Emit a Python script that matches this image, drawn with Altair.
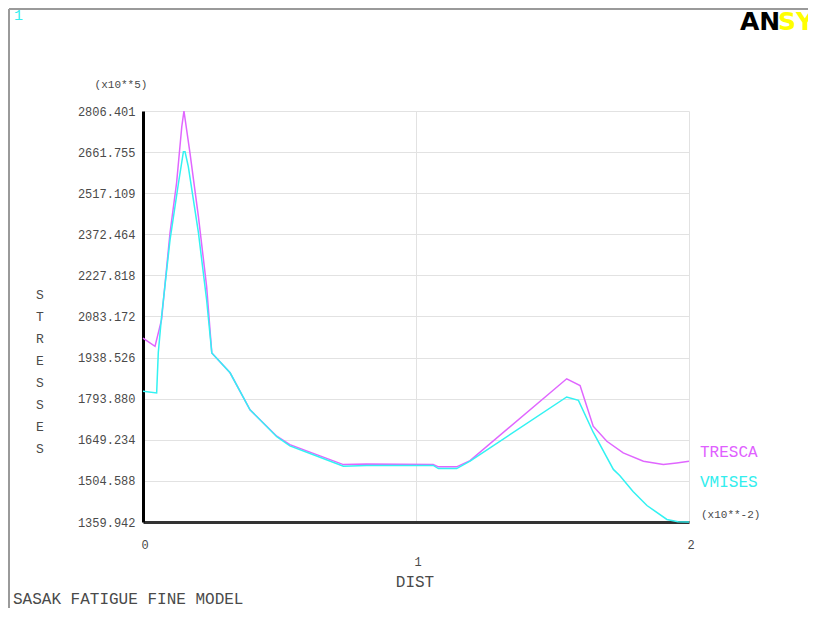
import altair as alt
import pandas as pd

# ---- data ----
tresca_x = [0, 0.044, 0.068, 0.099, 0.123, 0.142, 0.150, 0.172, 0.203, 0.233, 0.252, 0.319,
            0.392, 0.490, 0.538, 0.636, 0.734, 0.819, 1.063, 1.082, 1.149, 1.198, 1.552,
            1.601, 1.649, 1.699, 1.759, 1.833, 1.906, 1.955, 2.0]
tresca_y = [2007, 1978, 2072, 2378, 2553, 2751, 2806.401, 2659, 2435, 2189, 1955, 1885,
            1755, 1662, 1632, 1597, 1562, 1564, 1562, 1554, 1554, 1576, 1864,
            1840, 1697, 1644, 1603, 1574, 1562, 1568, 1574]

vmises_x = [0, 0.050, 0.056, 0.068, 0.099, 0.130, 0.148, 0.154, 0.166, 0.203, 0.233, 0.252,
            0.319, 0.392, 0.490, 0.538, 0.636, 0.734, 0.819, 1.063, 1.082, 1.149, 1.198,
            1.552, 1.595, 1.649, 1.723, 1.747, 1.795, 1.846, 1.919, 1.960, 2.0]
vmises_y = [1820, 1814, 1956, 2083, 2353, 2553, 2663, 2663, 2611, 2378, 2142, 1955,
            1885, 1755, 1660, 1628, 1592, 1556, 1559, 1559, 1548, 1548, 1574,
            1800, 1788, 1676, 1545, 1523, 1467, 1418, 1369, 1361, 1360]

y_ticks = [1359.942, 1504.588, 1649.234, 1793.880, 1938.526, 2083.172,
           2227.818, 2372.464, 2517.109, 2661.755, 2806.401]
x_ticks = [0, 1, 2]
x_tick_labels = ["0", "1", "2"]
series_names = ["TRESCA", "VMISES"]
series_colors = ["#e066ff", "#33f2f2"]

df = pd.concat([
    pd.DataFrame({"x": tresca_x, "y": tresca_y, "series": "TRESCA", "ord": 1}),
    pd.DataFrame({"x": vmises_x, "y": vmises_y, "series": "VMISES", "ord": 0}),
], ignore_index=True)
xlab = pd.DataFrame({"x": x_ticks, "label": x_tick_labels})
one = pd.DataFrame({"a": [0]})

W, H = 546, 411
PL, PT, PR, PB = 135, 103, 119, 86
MONO = "Liberation Mono"
TXT = "#4a4a4a"

xs = alt.Scale(domain=[0, 2], nice=False, zero=False)
ys = alt.Scale(domain=[y_ticks[0], y_ticks[-1]], nice=False, zero=False)

lines = alt.Chart(df).mark_line(strokeWidth=1.5).encode(
    x=alt.X("x:Q", scale=xs, axis=alt.Axis(values=x_ticks, labels=False, ticks=False, title=None,
                                           grid=True, gridColor="#e2e2e2", gridWidth=1,
                                           domainColor="#333333", domainWidth=3)),
    y=alt.Y("y:Q", scale=ys, axis=alt.Axis(values=y_ticks, format=".3f", ticks=False, title=None,
                                           labelFont=MONO, labelFontSize=12, labelColor=TXT,
                                           labelPadding=8, grid=True, gridColor="#e2e2e2",
                                           gridWidth=1, domainColor="#000000", domainWidth=3)),
    color=alt.Color("series:N", scale=alt.Scale(domain=series_names, range=series_colors), legend=None),
    detail="series:N",
    order="ord:Q",
)

def txt(text, x, y, size=12, color=TXT, align="left", font=MONO, weight="normal", **kw):
    return alt.Chart(one).mark_text(font=font, fontSize=size, color=color, align=align,
                                    baseline="middle", fontWeight=weight, **kw).encode(
        x=alt.value(x), y=alt.value(y), text=alt.value(text))

xl_low = alt.Chart(xlab).transform_filter("datum.x != 1").mark_text(
    font=MONO, fontSize=12, color=TXT, baseline="middle", dx=2).encode(
    x=alt.X("x:Q", scale=xs), y=alt.value(434), text="label:N")
xl_high = alt.Chart(xlab).transform_filter("datum.x == 1").mark_text(
    font=MONO, fontSize=12, color=TXT, baseline="middle", dx=2).encode(
    x=alt.X("x:Q", scale=xs), y=alt.value(451), text="label:N")

texts = [
    txt("(x10**5)", -22, -26, size=11, align="center"),
    txt("(x10**-2)", 558, 404, size=11),
    txt("TRESCA", 557, 341, size=16, color="#e060ff"),
    txt("VMISES", 557, 371, size=16, color="#33eeee"),
    txt("DIST", 272, 471, size=16, align="center"),
    txt(["S", "T", "R", "E", "S", "S", "E", "S"], -103, 184, size=13, align="center", lineHeight=22),
    txt("SASAK FATIGUE FINE MODEL", -130, 488, size=16),
    txt("1", -129, -96, size=15, color="#33eeee"),
    txt("AN", 597, -89, size=25, color="#000000", font="DejaVu Sans", weight="bold"),
    txt("SYS", 635, -89, size=25, color="#ffff00", font="DejaVu Sans", weight="bold"),
]

frame_left = alt.Chart(one).mark_rule(color="#9a9a9a", strokeWidth=2).encode(
    x=alt.value(-134), y=alt.value(-102), y2=alt.value(H + PB))
frame_top = alt.Chart(one).mark_rule(color="#9a9a9a", strokeWidth=2).encode(
    x=alt.value(-134), x2=alt.value(W + PR), y=alt.value(-102))

chart = alt.layer(frame_left, frame_top, lines, xl_low, xl_high, *texts).properties(
    width=W, height=H,
    padding={"left": PL, "top": PT, "right": PR, "bottom": PB},
    autosize=alt.AutoSizeParams(type="none"),
    background="white",
).configure_view(stroke=None)

chart.save("out.html", embed_options={"renderer": "svg", "actions": False})
